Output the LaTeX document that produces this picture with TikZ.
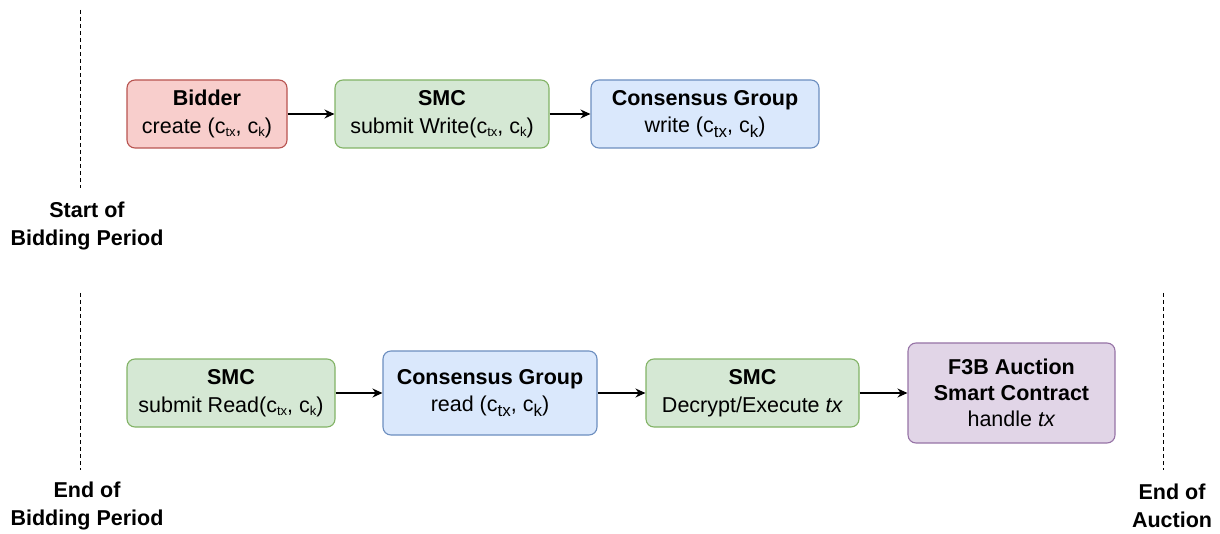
\documentclass[tikz,border=0pt]{standalone}
\usepackage{fontspec}
\setmainfont{Liberation Sans}
\usetikzlibrary{arrows.meta}

\definecolor{redfill}{HTML}{F8CECC}\definecolor{redline}{HTML}{B85450}
\definecolor{greenfill}{HTML}{D5E8D4}\definecolor{greenline}{HTML}{82B366}
\definecolor{bluefill}{HTML}{DAE8FC}\definecolor{blueline}{HTML}{6C8EBF}
\definecolor{purplefill}{HTML}{E1D5E7}\definecolor{purpleline}{HTML}{9673A6}

% small and large subscripts
\newcommand\sbs[1]{\raisebox{-3.5pt}{\fontsize{13}{13}\selectfont #1}}
\newcommand\sbl[1]{\raisebox{-4.5pt}{\fontsize{17}{17}\selectfont #1}}

\tikzset{
  box/.style={rectangle, rounded corners=8pt, line width=1.1pt, inner sep=0pt,
    align=center, font=\fontsize{21.5}{27.5}\selectfont},
  redbox/.style={box, fill=redfill, draw=redline},
  greenbox/.style={box, fill=greenfill, draw=greenline},
  bluebox/.style={box, fill=bluefill, draw=blueline},
  purplebox/.style={box, fill=purplefill, draw=purpleline},
  flow/.style={line width=1.2pt, -{Stealth[length=10pt,width=9pt]}},
  period/.style={line width=1pt, dash pattern=on 4pt off 3pt},
  marker/.style={align=center, font=\fontsize{21.5}{28}\selectfont\bfseries},
}

\begin{document}
\begin{tikzpicture}[x=1pt,y=1pt]
\useasboundingbox (0,0) rectangle (1220,-534);

% bidding period: first row
\node[redbox, minimum width=160, minimum height=68] (bidder) at (207,-114)
  {\textbf{Bidder}\\create (c\sbs{tx}, c\sbs{k})};
\node[greenbox, minimum width=214, minimum height=68] (smcw) at (442,-114)
  {\textbf{SMC}\\submit Write(c\sbs{tx}, c\sbs{k})};
\node[bluebox, minimum width=228, minimum height=68] (cgw) at (705,-114)
  {\textbf{Consensus Group}\\write (c\sbl{tx}, c\sbl{k})};

% after the bidding period: second row
\node[greenbox, minimum width=208, minimum height=68] (smcr) at (231,-393)
  {\textbf{SMC}\\submit Read(c\sbs{tx}, c\sbs{k})};
\node[bluebox, minimum width=214, minimum height=84] (cgr) at (490,-393)
  {\textbf{Consensus Group}\\read (c\sbl{tx}, c\sbl{k})};
\node[greenbox, minimum width=213, minimum height=68] (smcx) at (752.5,-393)
  {\textbf{SMC}\\Decrypt/Execute \textit{tx}};
\node[purplebox, minimum width=207, minimum height=100,
      font=\fontsize{21.5}{26}\selectfont] (f3b) at (1011.5,-393)
  {\textbf{F3B Auction}\\\textbf{Smart Contract}\\handle \textit{tx}};

\draw[flow] (bidder) -- (smcw);
\draw[flow] (smcw) -- (cgw);
\draw[flow] (smcr) -- (cgr);
\draw[flow] (cgr) -- (smcx);
\draw[flow] (smcx) -- (f3b);

% period markers
\coordinate (s1) at (80,-10);   \coordinate (s2) at (80,-188);
\coordinate (e1) at (80,-293);  \coordinate (e2) at (80,-470);
\coordinate (a1) at (1163,-293);\coordinate (a2) at (1163,-470);
\draw[period] (s1) -- (s2);
\draw[period] (e1) -- (e2);
\draw[period] (a1) -- (a2);

\node[marker] (start) at (87,-226) {Start of\\Bidding Period};
\node[marker] (endbid) at (87,-506) {End of\\Bidding Period};
\node[marker] (endauc) at (1172,-506) {End of\\Auction};
\end{tikzpicture}
\end{document}
